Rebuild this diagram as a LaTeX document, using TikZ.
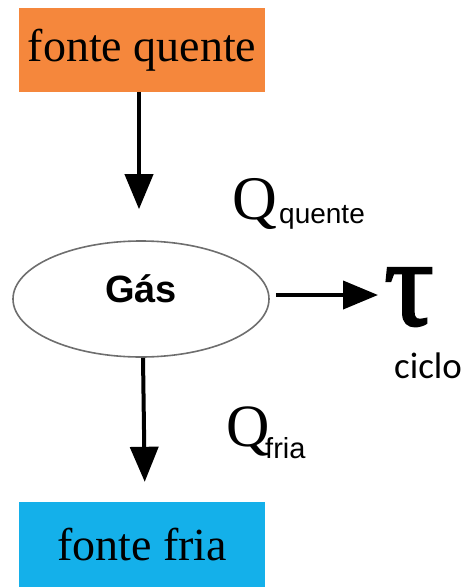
\documentclass[tikz,border=0pt]{standalone}
\usepackage{fontspec}
\setmainfont{Liberation Serif}
\newfontfamily\arialf{Liberation Sans}
\newfontfamily\calibrif{Carlito}
\newfontfamily\taufont[FakeBold=2]{Liberation Serif}
\usetikzlibrary{arrows.meta,shapes.geometric}
\definecolor{hotc}{RGB}{245,135,60}
\definecolor{coldc}{RGB}{20,176,234}
\definecolor{ellc}{RGB}{110,110,110}
\begin{document}
\begin{tikzpicture}[x=1pt,y=-1pt,
  srcbox/.style={draw=none,inner sep=0pt,minimum width=246pt,minimum height=84pt,font=\fontsize{46}{46}\selectfont},
  flow/.style={line width=4pt,-{Triangle[width=28pt,length=35pt]}},
  lbl/.style={inner sep=0pt,anchor=base west}]
\useasboundingbox (0,0) rectangle (467,587);
\node[srcbox,fill=hotc] (hot) at (142,50) {fonte quente};
\node[srcbox,fill=coldc,minimum height=85pt] (cold) at (142,544.5) {fonte fria};
\node[draw=ellc,line width=1.6pt,ellipse,minimum width=256pt,minimum height=116pt,inner sep=0pt,
      font=\arialf\bfseries\fontsize{38}{38}\selectfont,text height=0.72em,text depth=0pt] (gas) at (141,299) {Gás};
\node[inner sep=0pt,anchor=base,font=\taufont\fontsize{124}{124}\selectfont] (tau) at (409,325) {τ};
\node[lbl,font=\calibrif\fontsize{37}{37}\selectfont] (ciclo) at (394,378) {ciclo};
\node[lbl,font=\fontsize{62}{62}\selectfont] (q1) at (232,219) {Q};
\node[lbl,font=\arialf\fontsize{28}{28}\selectfont] (q1s) at (279,223) {quente};
\node[lbl,font=\fontsize{60}{60}\selectfont] (q2) at (226,446) {Q};
\node[lbl,font=\arialf\fontsize{29}{29}\selectfont] (q2s) at (265,458) {fria};
\coordinate (tauend) at (378,295);
\draw[flow,shorten >=31pt] ([xshift=-3pt]hot.south) -- ([xshift=-2pt]gas.north);
\draw[flow,shorten >=20pt] ([xshift=2pt]gas.south) -- ([xshift=3pt]cold.north);
\draw[flow,shorten <=6pt] ([yshift=4pt]gas.east) -- (tauend);
\end{tikzpicture}
\end{document}
